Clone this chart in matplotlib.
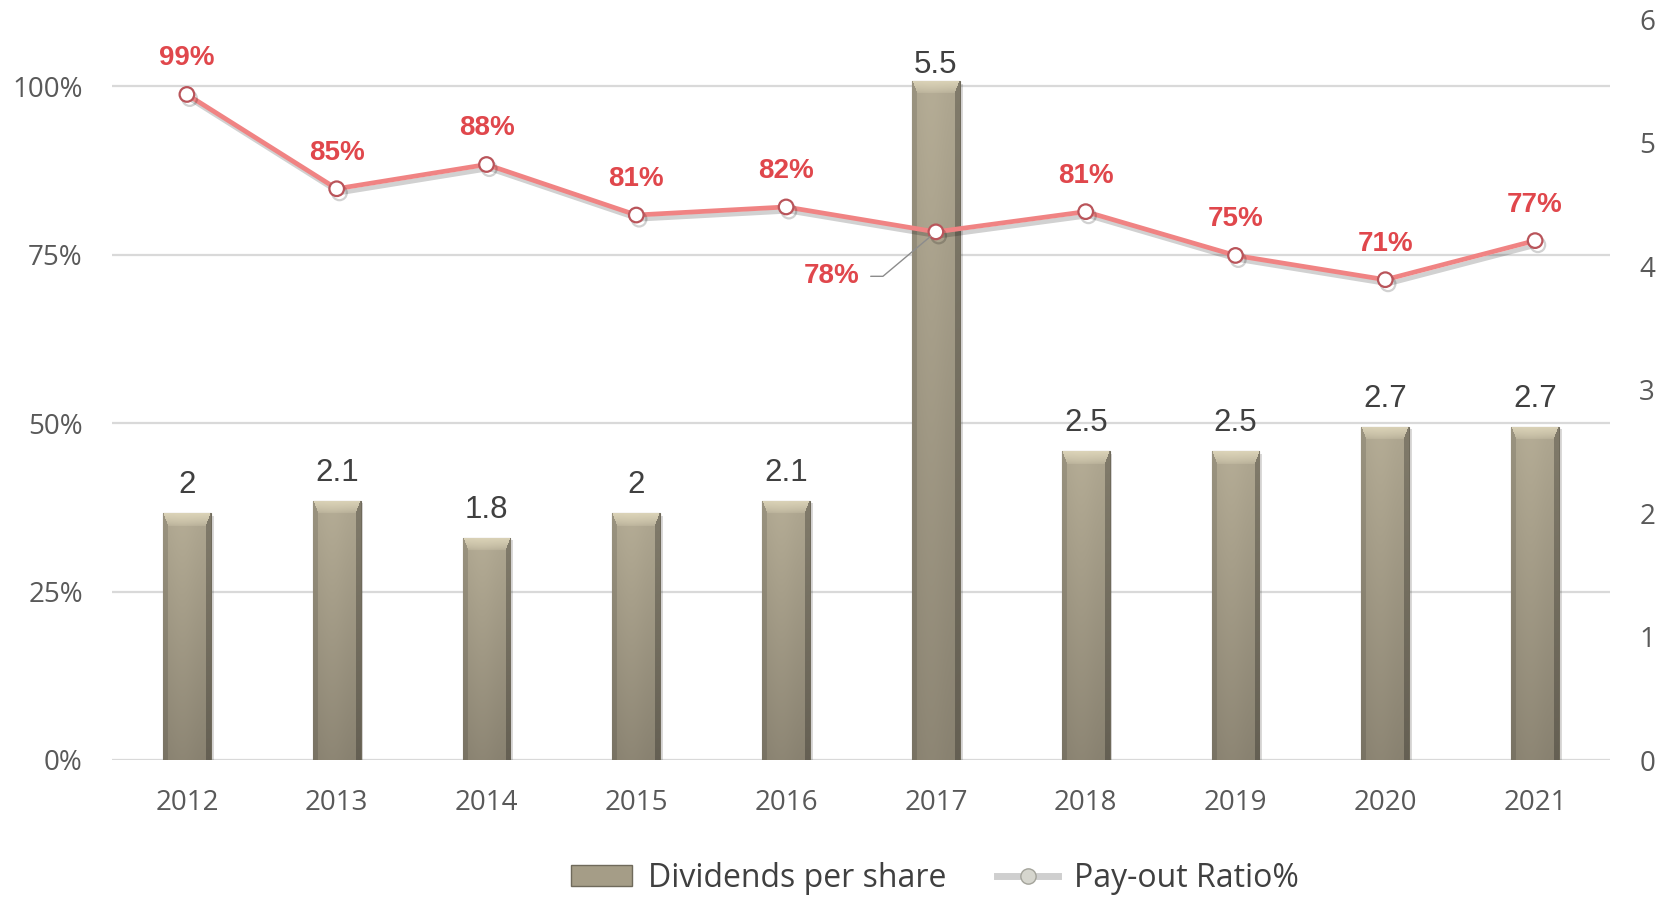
import numpy as np
import matplotlib
matplotlib.use("Agg")
import matplotlib.pyplot as plt
from matplotlib.lines import Line2D
from matplotlib.patches import Patch
import matplotlib.patheffects as pe

# ---------------- data ----------------
years = ["2012", "2013", "2014", "2015", "2016", "2017", "2018", "2019", "2020", "2021"]
dividends = [2.0, 2.1, 1.8, 2.0, 2.1, 5.5, 2.5, 2.5, 2.7, 2.7]
payout_pct = [98.8, 84.8, 88.4, 80.9, 82.1, 78.4, 81.4, 74.9, 71.3, 77.1]
pct_ticks = [0, 25, 50, 75, 100]
div_ticks = [0, 1, 2, 3, 4, 5, 6]

# ---------------- style ----------------
W, H, DPI = 1666, 897, 100
TICK_COLOR = "#595959"
LABEL_RED = "#e0474c"
LINE_COLOR = "#f08383"
GRID_COLOR = "#d9d9d9"

fig = plt.figure(figsize=(W / DPI, H / DPI), dpi=DPI)
ax = fig.add_axes([112 / W, 1 - 760 / H, (1610 - 112) / W, (760 - 19) / H])
ax2 = ax.twinx()
ax.set_zorder(ax2.get_zorder() + 1)
ax.patch.set_visible(False)

x = np.arange(len(years))
ax.set_xlim(-0.5, len(years) - 0.5)
ax.set_ylim(0, 110)
ax2.set_ylim(0, 6)

for a in (ax, ax2):
    for s in a.spines.values():
        s.set_visible(False)

# grid lines (drawn in the lower axes, positioned with the percent axis)
for p in pct_ticks:
    ax2.add_line(Line2D([0, 1], [p, p], transform=ax.get_yaxis_transform(),
                        color=GRID_COLOR, lw=1.6, zorder=0))

# ---------------- bars ----------------
bw = 0.32
bars = ax2.bar(x, dividends, width=bw, color="#a59d87", edgecolor="#6f6a5b",
               linewidth=0.8, zorder=2)
ax2.set_xlim(-0.5, len(years) - 0.5)
ax2.set_ylim(0, 6)


def shade_bar(a, rect):
    x0, y0 = rect.get_x(), rect.get_y()
    w, h = rect.get_width(), rect.get_height()
    p0 = a.transData.transform((x0, y0))
    p1 = a.transData.transform((x0 + w, y0 + h))
    nx = max(int(round(p1[0] - p0[0])), 4)
    ny = max(int(round(p1[1] - p0[1])), 4)
    yy, xx = np.mgrid[0:ny, 0:nx].astype(float)
    t = yy / (ny - 1)
    top = np.array([174, 166, 144]) / 255
    bot = np.array([136, 129, 112]) / 255
    img = top * (1 - t)[..., None] + bot * t[..., None]
    u = xx / (nx - 1)
    hl = 1 + 0.04 * np.exp(-((u - 0.4) / 0.3) ** 2)
    img = img * hl[..., None]
    dl = xx
    dr = nx - 1 - xx
    dt = yy
    bs, bt = 5.0, 13.0
    ratio = bs / bt
    top_reg = (dt < bt) & (dl > dt * ratio) & (dr > dt * ratio)
    left_reg = (dl < bs) & ~top_reg
    right_reg = (dr < bs) & ~top_reg
    light = np.array([226, 218, 190]) / 255
    f = np.where(top_reg, 0.75 * (1 - dt / bt) ** 0.7 + 0.1, 0)
    img = img * (1 - f[..., None]) + light * f[..., None]
    img = np.where(left_reg[..., None], img * 0.88, img)
    img = np.where(right_reg[..., None], img * 0.74, img)
    img = np.clip(img, 0, 1)
    im = a.imshow(img, extent=(x0, x0 + w, y0, y0 + h), origin="upper",
                  aspect="auto", interpolation="bilinear", zorder=3)
    im.set_clip_path(rect)


for r in bars:
    r.set_path_effects([pe.SimplePatchShadow(offset=(2, -2), alpha=0.18), pe.Normal()])
    shade_bar(ax2, r)

ax2.set_xlim(-0.5, len(years) - 0.5)
ax2.set_ylim(0, 6)

for xi, v in zip(x, dividends):
    off = 11 if v > 5 else 20
    ax2.annotate(f"{v:g}", (xi, v), xytext=(0, off), textcoords="offset points",
                 ha="center", va="center", fontsize=22.5, color="#404040",
                 family="Liberation Sans", zorder=5)

# ---------------- line ----------------
ax.plot(x, payout_pct, color=LINE_COLOR, lw=3.4, marker="o", ms=10.5,
        mfc="white", mec="#b9545a", mew=1.6, zorder=4, solid_capstyle="round",
        path_effects=[pe.SimpleLineShadow(offset=(2, -3), alpha=0.18), pe.Normal()])

for xi, v in zip(x, payout_pct):
    lab = f"{v:.0f}%"
    if years[xi] == "2017":
        ax.annotate(lab, (xi, v), xytext=(-75, -32), textcoords="offset points",
                    ha="center", va="center", fontsize=20, fontweight="bold",
                    color=LABEL_RED, family="Liberation Sans", zorder=6,
                    arrowprops=dict(arrowstyle="-", color="#8c8c8c", lw=1.0,
                                    connectionstyle="angle,angleA=0,angleB=40,rad=0",
                                    relpos=(1.0, 0.5), shrinkA=6, shrinkB=5))
    else:
        ax.annotate(lab, (xi, v), xytext=(0, 26), textcoords="offset points",
                    ha="center", va="center", fontsize=20, fontweight="bold",
                    color=LABEL_RED, family="Liberation Sans", zorder=6)

# ---------------- ticks ----------------
ax.set_xticks(x)
ax.set_xticklabels(years)
ax.set_yticks(pct_ticks)
ax.set_yticklabels([f"{p}%" for p in pct_ticks])
ax2.set_yticks(div_ticks)
ax2.set_yticklabels([str(d) for d in div_ticks])
ax.tick_params(axis="both", length=0, labelsize=20, labelcolor=TICK_COLOR)
ax.tick_params(axis="y", pad=21)
ax.tick_params(axis="x", pad=21)
ax2.tick_params(axis="y", length=0, labelsize=20, labelcolor=TICK_COLOR, pad=21)
for lab in ax.get_xticklabels() + ax.get_yticklabels() + ax2.get_yticklabels():
    lab.set_family("Open Sans")

# ---------------- legend ----------------
h_bar = Patch(facecolor="#a59d87", edgecolor="#6f6a5b", linewidth=1.0)
h_line = Line2D([], [], color="#cfcfcf", lw=5, marker="o", ms=11,
                mfc="#d6d6ce", mec="#a3a39a", mew=1.0)
fig.legend([h_bar, h_line], ["Dividends per share", "Pay-out Ratio%"],
           loc="center", bbox_to_anchor=(935 / W, 1 - 878 / H), ncol=2,
           frameon=False, prop={"family": "Open Sans", "size": 23},
           labelcolor="#404040", handlelength=1.9, handleheight=0.65,
           handletextpad=0.5, columnspacing=1.6)

fig.savefig("out.png", dpi=DPI)
